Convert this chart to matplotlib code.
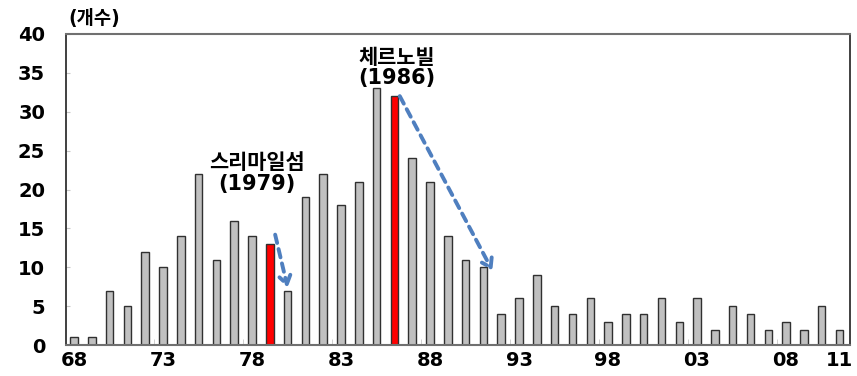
import matplotlib.pyplot as plt
from matplotlib.patches import FancyArrowPatch

# 연도별 개수
years = ["68", "69", "70", "71", "72", "73", "74", "75", "76", "77", "78", "79",
         "80", "81", "82", "83", "84", "85", "86", "87", "88", "89", "90", "91",
         "92", "93", "94", "95", "96", "97", "98", "99", "00", "01", "02", "03",
         "04", "05", "06", "07", "08", "09", "10", "11"]
counts = [1, 1, 7, 5, 12, 10, 14, 22, 11, 16, 14, 13,
          7, 19, 22, 18, 21, 33, 32, 24, 21, 14, 11, 10,
          4, 6, 9, 5, 4, 6, 3, 4, 4, 6, 3, 6,
          2, 5, 4, 2, 3, 2, 5, 2]
highlight = ["79", "86"]
tick_years = ["68", "73", "78", "83", "88", "93", "98", "03", "08", "11"]
yticks = [0, 5, 10, 15, 20, 25, 30, 35, 40]

plt.rcParams['font.family'] = ['DejaVu Sans', 'Noto Sans CJK KR']

fig = plt.figure(figsize=(8.57, 3.76), dpi=100)
ax = fig.add_axes([0.077, 0.082, 0.915, 0.828])

x = list(range(len(years)))
colors = ["#ff0000" if y in highlight else "#c0c0c0" for y in years]
ax.bar(x, counts, width=0.42, color=colors, edgecolor="#303030", linewidth=1.0, zorder=2)

ax.set_xlim(-0.45, 43.6)
ax.set_ylim(0, 40)
ax.set_yticks(yticks)
ax.set_yticklabels([str(v) for v in yticks], fontsize=14, fontweight="bold")
ax.set_xticks([years.index(t) for t in tick_years])
ax.set_xticklabels(tick_years, fontsize=14, fontweight="bold")
ax.set_xticks([years.index(t) - 0.5 for t in tick_years[1:-1]], minor=True)
ax.tick_params(axis="x", which="major", length=0, pad=4)
ax.tick_params(axis="x", which="minor", direction="in", length=4, color="#c8c8c8")
ax.tick_params(axis="y", direction="in", length=3, color="#c8c8c8", pad=15)

for s in ["top", "bottom"]:
    ax.spines[s].set_color("#707070")
    ax.spines[s].set_linewidth(1.5)
for s in ["left", "right"]:
    ax.spines[s].set_color("#202020")
    ax.spines[s].set_linewidth(1.2)

fig.text(0.080, 0.952, "(개수)", fontsize=13.5, fontweight="bold",
         ha="left", va="center")
ax.text(10.3, 22.1, "스리마일섬\n(1979)", fontsize=15, fontweight="bold",
        ha="center", va="center", linespacing=1.05)
ax.text(18.15, 35.6, "체르노빌\n(1986)", fontsize=15, fontweight="bold",
        ha="center", va="center", linespacing=1.05)

arrow_col = "#4f7fbf"
for (x0, y0), (x1, y1) in [((11.3, 14.2), (12.0, 7.4)), ((18.3, 32.0), (23.5, 9.6))]:
    a = FancyArrowPatch((x0, y0), (x1, y1), arrowstyle="->,head_length=6,head_width=4",
                        color=arrow_col, linewidth=2.8, linestyle=(0, (2.2, 1.6)),
                        shrinkA=0, shrinkB=0, zorder=3)
    ax.add_patch(a)

fig.savefig("out.png", dpi=100)
